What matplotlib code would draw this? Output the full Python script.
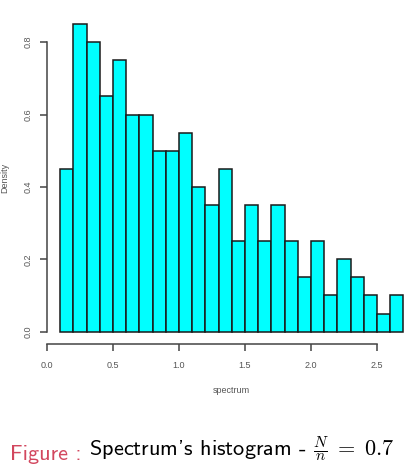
import matplotlib
matplotlib.use("Agg")
import matplotlib.pyplot as plt
import numpy as np

# histogram breaks and densities
breaks = [0.1, 0.2, 0.3, 0.4, 0.5, 0.6, 0.7, 0.8, 0.9, 1.0, 1.1, 1.2, 1.3, 1.4,
          1.5, 1.6, 1.7, 1.8, 1.9, 2.0, 2.1, 2.2, 2.3, 2.4, 2.5, 2.6, 2.7]
density = [0.45, 0.85, 0.80, 0.65, 0.75, 0.60, 0.60, 0.50, 0.50, 0.55, 0.40,
           0.35, 0.45, 0.25, 0.35, 0.25, 0.35, 0.25, 0.15, 0.25, 0.10, 0.20,
           0.15, 0.10, 0.05, 0.10]
x_ticks = [0.0, 0.5, 1.0, 1.5, 2.0, 2.5]
y_ticks = [0.0, 0.2, 0.4, 0.6, 0.8]

plt.rcParams['font.family'] = ['Liberation Sans', 'DejaVu Sans']
plt.rcParams['mathtext.fontset'] = 'cm'

fig = plt.figure(figsize=(4.07, 4.72), dpi=100)
W, H = 407, 472
# plot region (R style, partly cropped on the right)
left, right, bottom, top = 46.5, 417, 344, 11.7
ax = fig.add_axes([left / W, 1 - bottom / H, (right - left) / W, (bottom - top) / H])

edges = np.array(breaks)
ax.bar(edges[:-1], density, width=np.diff(edges), align='edge',
       color='#00ffff', edgecolor='#1a1a1a', linewidth=1.1)

x0, x1 = breaks[0], breaks[-1]
ax.set_xlim(x0 - 0.04 * (x1 - x0), x1 + 0.04 * (x1 - x0))
ymax = max(density)
ax.set_ylim(-0.04 * ymax, ymax * 1.04)

for s in ['top', 'right']:
    ax.spines[s].set_visible(False)
ax.spines['left'].set_bounds(y_ticks[0], y_ticks[-1])
ax.spines['bottom'].set_bounds(x_ticks[0], x_ticks[-1])
for s in ['left', 'bottom']:
    ax.spines[s].set_color('#444444')
    ax.spines[s].set_linewidth(1.1)

ax.set_xticks(x_ticks)
ax.set_xticklabels([f'{v:.1f}' for v in x_ticks])
ax.set_yticks(y_ticks)
ax.set_yticklabels([f'{v:.1f}' for v in y_ticks], rotation=90, va='center')
ax.tick_params(axis='both', length=5, width=1.1, color='#444444',
               labelsize=6.5, labelcolor='#555555')
ax.tick_params(axis='x', pad=7)
ax.tick_params(axis='y', pad=5)

ax.set_xlabel('spectrum', fontsize=6.5, color='#555555', labelpad=12)
ax.yaxis.set_label_coords(-37.5 / (right - left), 0.5)
ax.set_ylabel('Density', fontsize=6.5, color='#555555')

# caption below the chart
cap = fig.text(10 / W, 1 - 460 / H, 'Figure :', fontsize=16,
               color='#d2475e', family='cmss10')
fig.canvas.draw()
ax.annotate(r" Spectrum's histogram - $\frac{N}{n}\;=\;0.7$", xy=(1, 0),
            xycoords=cap, va='bottom', fontsize=16, color='black',
            family='cmss10', annotation_clip=False)

fig.savefig('out.png', dpi=100)
